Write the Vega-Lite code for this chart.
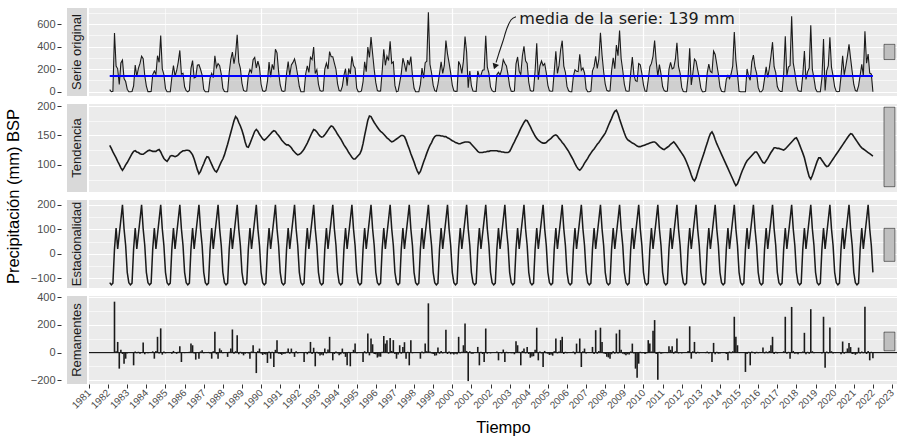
{
"$schema": "https://vega.github.io/schema/vega-lite/v6.json",
"padding": {"left": 4, "top": 8, "right": 0, "bottom": 0},
"background": "white",
"config": {"font": "Liberation Sans", "view": {"stroke": null}, "axis": {"labelFont": "Liberation Sans", "titleFont": "Liberation Sans", "gridColor": "#ffffff", "labelOverlap": false}},
"datasets": {
"ts": [
{"t":1982.083,"o":19,"tr":133,"s":-118,"r":4},
{"t":1982.167,"o":0,"tr":128,"s":-127,"r":-3},
{"t":1982.25,"o":4,"tr":122,"s":-120,"r":2},
{"t":1982.333,"o":520,"tr":117,"s":20,"r":368},
{"t":1982.417,"o":227,"tr":112,"s":105,"r":10},
{"t":1982.5,"o":203,"tr":106,"s":20,"r":77},
{"t":1982.583,"o":65,"tr":101,"s":80,"r":-116},
{"t":1982.667,"o":255,"tr":95,"s":140,"r":20},
{"t":1982.75,"o":280,"tr":91,"s":200,"r":-10},
{"t":1982.833,"o":117,"tr":95,"s":102,"r":-80},
{"t":1982.917,"o":90,"tr":100,"s":34,"r":-44},
{"t":1983.0,"o":22,"tr":104,"s":-76,"r":-6},
{"t":1983.083,"o":0,"tr":109,"s":-118,"r":5},
{"t":1983.167,"o":0,"tr":114,"s":-127,"r":-2},
{"t":1983.25,"o":2,"tr":119,"s":-120,"r":3},
{"t":1983.333,"o":52,"tr":123,"s":20,"r":-92},
{"t":1983.417,"o":237,"tr":124,"s":105,"r":8},
{"t":1983.5,"o":137,"tr":122,"s":20,"r":-5},
{"t":1983.583,"o":207,"tr":121,"s":80,"r":6},
{"t":1983.667,"o":251,"tr":119,"s":140,"r":-8},
{"t":1983.75,"o":315,"tr":118,"s":200,"r":-3},
{"t":1983.833,"o":293,"tr":118,"s":102,"r":73},
{"t":1983.917,"o":142,"tr":120,"s":34,"r":-12},
{"t":1984.0,"o":50,"tr":122,"s":-76,"r":4},
{"t":1984.083,"o":1,"tr":124,"s":-118,"r":-5},
{"t":1984.167,"o":1,"tr":125,"s":-127,"r":3},
{"t":1984.25,"o":2,"tr":124,"s":-120,"r":-2},
{"t":1984.333,"o":152,"tr":123,"s":20,"r":9},
{"t":1984.417,"o":184,"tr":123,"s":105,"r":-44},
{"t":1984.5,"o":154,"tr":123,"s":20,"r":12},
{"t":1984.583,"o":319,"tr":125,"s":80,"r":114},
{"t":1984.667,"o":261,"tr":126,"s":140,"r":-6},
{"t":1984.75,"o":497,"tr":122,"s":200,"r":175},
{"t":1984.833,"o":203,"tr":116,"s":102,"r":-15},
{"t":1984.917,"o":152,"tr":111,"s":34,"r":7},
{"t":1985.0,"o":27,"tr":108,"s":-76,"r":-5},
{"t":1985.083,"o":0,"tr":106,"s":-118,"r":3},
{"t":1985.167,"o":0,"tr":110,"s":-127,"r":-2},
{"t":1985.25,"o":0,"tr":115,"s":-120,"r":4},
{"t":1985.333,"o":128,"tr":116,"s":20,"r":-8},
{"t":1985.417,"o":232,"tr":115,"s":105,"r":12},
{"t":1985.5,"o":138,"tr":114,"s":20,"r":4},
{"t":1985.583,"o":186,"tr":115,"s":80,"r":-9},
{"t":1985.667,"o":263,"tr":117,"s":140,"r":6},
{"t":1985.75,"o":366,"tr":120,"s":200,"r":46},
{"t":1985.833,"o":156,"tr":122,"s":102,"r":-68},
{"t":1985.917,"o":163,"tr":124,"s":34,"r":5},
{"t":1986.0,"o":44,"tr":124,"s":-76,"r":-4},
{"t":1986.083,"o":9,"tr":125,"s":-118,"r":2},
{"t":1986.167,"o":0,"tr":125,"s":-127,"r":-3},
{"t":1986.25,"o":11,"tr":124,"s":-120,"r":6},
{"t":1986.333,"o":207,"tr":121,"s":20,"r":65},
{"t":1986.417,"o":276,"tr":117,"s":105,"r":53},
{"t":1986.5,"o":123,"tr":110,"s":20,"r":-7},
{"t":1986.583,"o":130,"tr":101,"s":80,"r":-51},
{"t":1986.667,"o":236,"tr":92,"s":140,"r":4},
{"t":1986.75,"o":239,"tr":85,"s":200,"r":-44},
{"t":1986.833,"o":199,"tr":89,"s":102,"r":8},
{"t":1986.917,"o":147,"tr":96,"s":34,"r":17},
{"t":1987.0,"o":21,"tr":102,"s":-76,"r":-5},
{"t":1987.083,"o":0,"tr":109,"s":-118,"r":3},
{"t":1987.167,"o":0,"tr":114,"s":-127,"r":-2},
{"t":1987.25,"o":0,"tr":113,"s":-120,"r":5},
{"t":1987.333,"o":121,"tr":107,"s":20,"r":-6},
{"t":1987.417,"o":162,"tr":101,"s":105,"r":-44},
{"t":1987.5,"o":125,"tr":95,"s":20,"r":10},
{"t":1987.583,"o":319,"tr":90,"s":80,"r":150},
{"t":1987.667,"o":215,"tr":88,"s":140,"r":-12},
{"t":1987.75,"o":249,"tr":93,"s":200,"r":-44},
{"t":1987.833,"o":231,"tr":99,"s":102,"r":30},
{"t":1987.917,"o":156,"tr":105,"s":34,"r":17},
{"t":1988.0,"o":30,"tr":110,"s":-76,"r":-4},
{"t":1988.083,"o":2,"tr":117,"s":-118,"r":3},
{"t":1988.167,"o":0,"tr":126,"s":-127,"r":-2},
{"t":1988.25,"o":0,"tr":135,"s":-120,"r":-31},
{"t":1988.333,"o":170,"tr":145,"s":20,"r":6},
{"t":1988.417,"o":288,"tr":155,"s":105,"r":29},
{"t":1988.5,"o":351,"tr":165,"s":20,"r":167},
{"t":1988.583,"o":248,"tr":175,"s":80,"r":-8},
{"t":1988.667,"o":334,"tr":182,"s":140,"r":10},
{"t":1988.75,"o":505,"tr":179,"s":200,"r":126},
{"t":1988.833,"o":262,"tr":172,"s":102,"r":-12},
{"t":1988.917,"o":206,"tr":166,"s":34,"r":6},
{"t":1989.0,"o":75,"tr":159,"s":-76,"r":-9},
{"t":1989.083,"o":12,"tr":150,"s":-118,"r":-20},
{"t":1989.167,"o":4,"tr":139,"s":-127,"r":-9},
{"t":1989.25,"o":6,"tr":131,"s":-120,"r":-3},
{"t":1989.333,"o":143,"tr":130,"s":20,"r":-6},
{"t":1989.417,"o":197,"tr":136,"s":105,"r":-44},
{"t":1989.5,"o":171,"tr":143,"s":20,"r":8},
{"t":1989.583,"o":283,"tr":150,"s":80,"r":53},
{"t":1989.667,"o":303,"tr":157,"s":140,"r":5},
{"t":1989.75,"o":212,"tr":160,"s":200,"r":-148},
{"t":1989.833,"o":270,"tr":157,"s":102,"r":12},
{"t":1989.917,"o":215,"tr":152,"s":34,"r":29},
{"t":1990.0,"o":66,"tr":148,"s":-76,"r":-6},
{"t":1990.083,"o":8,"tr":144,"s":-118,"r":-17},
{"t":1990.167,"o":3,"tr":142,"s":-127,"r":-11},
{"t":1990.25,"o":10,"tr":144,"s":-120,"r":-14},
{"t":1990.333,"o":92,"tr":147,"s":20,"r":-75},
{"t":1990.417,"o":263,"tr":150,"s":105,"r":8},
{"t":1990.5,"o":129,"tr":153,"s":20,"r":-44},
{"t":1990.583,"o":242,"tr":156,"s":80,"r":6},
{"t":1990.667,"o":195,"tr":158,"s":140,"r":-104},
{"t":1990.75,"o":377,"tr":157,"s":200,"r":20},
{"t":1990.833,"o":345,"tr":153,"s":102,"r":90},
{"t":1990.917,"o":176,"tr":150,"s":34,"r":-8},
{"t":1991.0,"o":60,"tr":146,"s":-76,"r":-10},
{"t":1991.083,"o":8,"tr":142,"s":-118,"r":-16},
{"t":1991.167,"o":3,"tr":139,"s":-127,"r":-9},
{"t":1991.25,"o":7,"tr":136,"s":-120,"r":-8},
{"t":1991.333,"o":160,"tr":134,"s":20,"r":6},
{"t":1991.417,"o":268,"tr":134,"s":105,"r":29},
{"t":1991.5,"o":144,"tr":132,"s":20,"r":-8},
{"t":1991.583,"o":238,"tr":129,"s":80,"r":29},
{"t":1991.667,"o":260,"tr":125,"s":140,"r":-5},
{"t":1991.75,"o":291,"tr":122,"s":200,"r":-31},
{"t":1991.833,"o":230,"tr":119,"s":102,"r":10},
{"t":1991.917,"o":144,"tr":117,"s":34,"r":-6},
{"t":1992.0,"o":46,"tr":118,"s":-76,"r":4},
{"t":1992.083,"o":0,"tr":120,"s":-118,"r":-2},
{"t":1992.167,"o":0,"tr":123,"s":-127,"r":3},
{"t":1992.25,"o":0,"tr":127,"s":-120,"r":-68},
{"t":1992.333,"o":157,"tr":132,"s":20,"r":5},
{"t":1992.417,"o":230,"tr":137,"s":105,"r":-12},
{"t":1992.5,"o":171,"tr":143,"s":20,"r":8},
{"t":1992.583,"o":306,"tr":149,"s":80,"r":77},
{"t":1992.667,"o":285,"tr":155,"s":140,"r":-10},
{"t":1992.75,"o":396,"tr":160,"s":200,"r":35},
{"t":1992.833,"o":162,"tr":159,"s":102,"r":-99},
{"t":1992.917,"o":196,"tr":156,"s":34,"r":6},
{"t":1993.0,"o":68,"tr":152,"s":-76,"r":-8},
{"t":1993.083,"o":10,"tr":149,"s":-118,"r":-21},
{"t":1993.167,"o":4,"tr":147,"s":-127,"r":-15},
{"t":1993.25,"o":8,"tr":148,"s":-120,"r":-20},
{"t":1993.333,"o":200,"tr":151,"s":20,"r":29},
{"t":1993.417,"o":254,"tr":155,"s":105,"r":-6},
{"t":1993.5,"o":201,"tr":159,"s":20,"r":22},
{"t":1993.583,"o":356,"tr":163,"s":80,"r":114},
{"t":1993.667,"o":310,"tr":166,"s":140,"r":4},
{"t":1993.75,"o":310,"tr":165,"s":200,"r":-56},
{"t":1993.833,"o":253,"tr":161,"s":102,"r":-10},
{"t":1993.917,"o":199,"tr":157,"s":34,"r":8},
{"t":1994.0,"o":70,"tr":152,"s":-76,"r":-6},
{"t":1994.083,"o":10,"tr":148,"s":-118,"r":-20},
{"t":1994.167,"o":5,"tr":144,"s":-127,"r":-12},
{"t":1994.25,"o":48,"tr":139,"s":-120,"r":29},
{"t":1994.333,"o":146,"tr":134,"s":20,"r":-8},
{"t":1994.417,"o":204,"tr":130,"s":105,"r":-31},
{"t":1994.5,"o":54,"tr":126,"s":20,"r":-92},
{"t":1994.583,"o":206,"tr":121,"s":80,"r":5},
{"t":1994.667,"o":158,"tr":117,"s":140,"r":-99},
{"t":1994.75,"o":313,"tr":113,"s":200,"r":0},
{"t":1994.833,"o":231,"tr":110,"s":102,"r":20},
{"t":1994.917,"o":209,"tr":110,"s":34,"r":65},
{"t":1995.0,"o":32,"tr":113,"s":-76,"r":-5},
{"t":1995.083,"o":1,"tr":116,"s":-118,"r":3},
{"t":1995.167,"o":0,"tr":119,"s":-127,"r":-2},
{"t":1995.25,"o":7,"tr":125,"s":-120,"r":4},
{"t":1995.333,"o":88,"tr":136,"s":20,"r":-68},
{"t":1995.417,"o":265,"tr":150,"s":105,"r":10},
{"t":1995.5,"o":177,"tr":163,"s":20,"r":-6},
{"t":1995.583,"o":396,"tr":176,"s":80,"r":138},
{"t":1995.667,"o":304,"tr":183,"s":140,"r":-20},
{"t":1995.75,"o":484,"tr":182,"s":200,"r":102},
{"t":1995.833,"o":339,"tr":177,"s":102,"r":60},
{"t":1995.917,"o":196,"tr":172,"s":34,"r":-10},
{"t":1996.0,"o":80,"tr":168,"s":-76,"r":-12},
{"t":1996.083,"o":10,"tr":164,"s":-118,"r":-36},
{"t":1996.167,"o":5,"tr":160,"s":-127,"r":-28},
{"t":1996.25,"o":7,"tr":157,"s":-120,"r":-30},
{"t":1996.333,"o":181,"tr":155,"s":20,"r":6},
{"t":1996.417,"o":377,"tr":152,"s":105,"r":120},
{"t":1996.5,"o":234,"tr":149,"s":20,"r":65},
{"t":1996.583,"o":316,"tr":146,"s":80,"r":90},
{"t":1996.667,"o":276,"tr":144,"s":140,"r":-8},
{"t":1996.75,"o":447,"tr":141,"s":200,"r":106},
{"t":1996.833,"o":252,"tr":139,"s":102,"r":12},
{"t":1996.917,"o":264,"tr":140,"s":34,"r":90},
{"t":1997.0,"o":56,"tr":142,"s":-76,"r":-10},
{"t":1997.083,"o":0,"tr":144,"s":-118,"r":-44},
{"t":1997.167,"o":5,"tr":146,"s":-127,"r":-14},
{"t":1997.25,"o":81,"tr":148,"s":-120,"r":53},
{"t":1997.333,"o":162,"tr":150,"s":20,"r":-8},
{"t":1997.417,"o":297,"tr":150,"s":105,"r":41},
{"t":1997.5,"o":244,"tr":148,"s":20,"r":75},
{"t":1997.583,"o":178,"tr":142,"s":80,"r":-44},
{"t":1997.667,"o":280,"tr":134,"s":140,"r":6},
{"t":1997.75,"o":235,"tr":127,"s":200,"r":-92},
{"t":1997.833,"o":311,"tr":119,"s":102,"r":90},
{"t":1997.917,"o":141,"tr":112,"s":34,"r":-5},
{"t":1998.0,"o":33,"tr":105,"s":-76,"r":4},
{"t":1998.083,"o":0,"tr":97,"s":-118,"r":3},
{"t":1998.167,"o":0,"tr":90,"s":-127,"r":-2},
{"t":1998.25,"o":0,"tr":85,"s":-120,"r":5},
{"t":1998.333,"o":65,"tr":89,"s":20,"r":-44},
{"t":1998.417,"o":210,"tr":97,"s":105,"r":8},
{"t":1998.5,"o":119,"tr":105,"s":20,"r":-6},
{"t":1998.583,"o":257,"tr":112,"s":80,"r":65},
{"t":1998.667,"o":270,"tr":120,"s":140,"r":10},
{"t":1998.75,"o":705,"tr":127,"s":200,"r":356},
{"t":1998.833,"o":243,"tr":133,"s":102,"r":8},
{"t":1998.917,"o":166,"tr":138,"s":34,"r":-6},
{"t":1999.0,"o":58,"tr":144,"s":-76,"r":-10},
{"t":1999.083,"o":9,"tr":148,"s":-118,"r":-22},
{"t":1999.167,"o":3,"tr":150,"s":-127,"r":-20},
{"t":1999.25,"o":66,"tr":150,"s":-120,"r":36},
{"t":1999.333,"o":162,"tr":150,"s":20,"r":-8},
{"t":1999.417,"o":266,"tr":149,"s":105,"r":12},
{"t":1999.5,"o":163,"tr":149,"s":20,"r":-6},
{"t":1999.583,"o":233,"tr":148,"s":80,"r":5},
{"t":1999.667,"o":453,"tr":148,"s":140,"r":165},
{"t":1999.75,"o":336,"tr":146,"s":200,"r":-10},
{"t":1999.833,"o":255,"tr":145,"s":102,"r":8},
{"t":1999.917,"o":165,"tr":143,"s":34,"r":-12},
{"t":2000.0,"o":59,"tr":141,"s":-76,"r":-6},
{"t":2000.083,"o":8,"tr":140,"s":-118,"r":-14},
{"t":2000.167,"o":3,"tr":138,"s":-127,"r":-8},
{"t":2000.25,"o":5,"tr":137,"s":-120,"r":-12},
{"t":2000.333,"o":269,"tr":136,"s":20,"r":114},
{"t":2000.417,"o":236,"tr":136,"s":105,"r":-5},
{"t":2000.5,"o":163,"tr":137,"s":20,"r":6},
{"t":2000.583,"o":271,"tr":138,"s":80,"r":53},
{"t":2000.667,"o":489,"tr":139,"s":140,"r":210},
{"t":2000.75,"o":351,"tr":139,"s":200,"r":12},
{"t":2000.833,"o":36,"tr":139,"s":102,"r":-206},
{"t":2000.917,"o":183,"tr":138,"s":34,"r":10},
{"t":2001.0,"o":51,"tr":135,"s":-76,"r":-8},
{"t":2001.083,"o":6,"tr":132,"s":-118,"r":-8},
{"t":2001.167,"o":4,"tr":129,"s":-127,"r":2},
{"t":2001.25,"o":3,"tr":126,"s":-120,"r":-3},
{"t":2001.333,"o":184,"tr":123,"s":20,"r":41},
{"t":2001.417,"o":133,"tr":121,"s":105,"r":-92},
{"t":2001.5,"o":147,"tr":121,"s":20,"r":6},
{"t":2001.583,"o":191,"tr":121,"s":80,"r":-10},
{"t":2001.667,"o":194,"tr":122,"s":140,"r":-68},
{"t":2001.75,"o":496,"tr":122,"s":200,"r":174},
{"t":2001.833,"o":217,"tr":123,"s":102,"r":-8},
{"t":2001.917,"o":162,"tr":123,"s":34,"r":5},
{"t":2002.0,"o":42,"tr":124,"s":-76,"r":-6},
{"t":2002.083,"o":9,"tr":124,"s":-118,"r":3},
{"t":2002.167,"o":0,"tr":124,"s":-127,"r":2},
{"t":2002.25,"o":2,"tr":124,"s":-120,"r":-2},
{"t":2002.333,"o":152,"tr":124,"s":20,"r":8},
{"t":2002.417,"o":172,"tr":123,"s":105,"r":-56},
{"t":2002.5,"o":148,"tr":123,"s":20,"r":5},
{"t":2002.583,"o":196,"tr":122,"s":80,"r":-6},
{"t":2002.667,"o":284,"tr":122,"s":140,"r":22},
{"t":2002.75,"o":253,"tr":121,"s":200,"r":-68},
{"t":2002.833,"o":229,"tr":121,"s":102,"r":6},
{"t":2002.917,"o":150,"tr":121,"s":34,"r":-4},
{"t":2003.0,"o":50,"tr":123,"s":-76,"r":4},
{"t":2003.083,"o":5,"tr":128,"s":-118,"r":-5},
{"t":2003.167,"o":3,"tr":134,"s":-127,"r":-4},
{"t":2003.25,"o":7,"tr":139,"s":-120,"r":-12},
{"t":2003.333,"o":247,"tr":145,"s":20,"r":82},
{"t":2003.417,"o":308,"tr":150,"s":105,"r":53},
{"t":2003.5,"o":182,"tr":156,"s":20,"r":6},
{"t":2003.583,"o":150,"tr":162,"s":80,"r":-92},
{"t":2003.667,"o":319,"tr":167,"s":140,"r":12},
{"t":2003.75,"o":402,"tr":172,"s":200,"r":29},
{"t":2003.833,"o":274,"tr":176,"s":102,"r":-6},
{"t":2003.917,"o":251,"tr":175,"s":34,"r":41},
{"t":2004.0,"o":84,"tr":170,"s":-76,"r":-10},
{"t":2004.083,"o":10,"tr":165,"s":-118,"r":-37},
{"t":2004.167,"o":4,"tr":159,"s":-127,"r":-28},
{"t":2004.25,"o":8,"tr":154,"s":-120,"r":-26},
{"t":2004.333,"o":188,"tr":149,"s":20,"r":20},
{"t":2004.417,"o":429,"tr":145,"s":105,"r":180},
{"t":2004.5,"o":106,"tr":142,"s":20,"r":-56},
{"t":2004.583,"o":228,"tr":140,"s":80,"r":8},
{"t":2004.667,"o":272,"tr":138,"s":140,"r":-6},
{"t":2004.75,"o":232,"tr":137,"s":200,"r":-104},
{"t":2004.833,"o":250,"tr":137,"s":102,"r":12},
{"t":2004.917,"o":167,"tr":138,"s":34,"r":-5},
{"t":2005.0,"o":57,"tr":141,"s":-76,"r":-8},
{"t":2005.083,"o":8,"tr":143,"s":-118,"r":-17},
{"t":2005.167,"o":4,"tr":145,"s":-127,"r":-14},
{"t":2005.25,"o":6,"tr":148,"s":-120,"r":-22},
{"t":2005.333,"o":180,"tr":150,"s":20,"r":10},
{"t":2005.417,"o":359,"tr":151,"s":105,"r":102},
{"t":2005.5,"o":163,"tr":149,"s":20,"r":-6},
{"t":2005.583,"o":233,"tr":145,"s":80,"r":8},
{"t":2005.667,"o":372,"tr":142,"s":140,"r":90},
{"t":2005.75,"o":452,"tr":138,"s":200,"r":114},
{"t":2005.833,"o":227,"tr":135,"s":102,"r":-10},
{"t":2005.917,"o":171,"tr":131,"s":34,"r":6},
{"t":2006.0,"o":47,"tr":127,"s":-76,"r":-5},
{"t":2006.083,"o":8,"tr":123,"s":-118,"r":3},
{"t":2006.167,"o":0,"tr":118,"s":-127,"r":4},
{"t":2006.25,"o":0,"tr":113,"s":-120,"r":-3},
{"t":2006.333,"o":136,"tr":108,"s":20,"r":8},
{"t":2006.417,"o":195,"tr":102,"s":105,"r":-12},
{"t":2006.5,"o":182,"tr":97,"s":20,"r":65},
{"t":2006.583,"o":178,"tr":93,"s":80,"r":6},
{"t":2006.667,"o":332,"tr":91,"s":140,"r":102},
{"t":2006.75,"o":190,"tr":94,"s":200,"r":-104},
{"t":2006.833,"o":210,"tr":98,"s":102,"r":10},
{"t":2006.917,"o":166,"tr":103,"s":34,"r":29},
{"t":2007.0,"o":25,"tr":107,"s":-76,"r":-6},
{"t":2007.083,"o":0,"tr":111,"s":-118,"r":4},
{"t":2007.167,"o":0,"tr":116,"s":-127,"r":-2},
{"t":2007.25,"o":5,"tr":120,"s":-120,"r":5},
{"t":2007.333,"o":185,"tr":124,"s":20,"r":41},
{"t":2007.417,"o":222,"tr":127,"s":105,"r":-10},
{"t":2007.5,"o":313,"tr":131,"s":20,"r":162},
{"t":2007.583,"o":207,"tr":135,"s":80,"r":-8},
{"t":2007.667,"o":290,"tr":138,"s":140,"r":12},
{"t":2007.75,"o":522,"tr":142,"s":200,"r":180},
{"t":2007.833,"o":325,"tr":146,"s":102,"r":77},
{"t":2007.917,"o":177,"tr":150,"s":34,"r":-6},
{"t":2008.0,"o":68,"tr":154,"s":-76,"r":-10},
{"t":2008.083,"o":12,"tr":160,"s":-118,"r":-30},
{"t":2008.167,"o":5,"tr":167,"s":-127,"r":-35},
{"t":2008.25,"o":8,"tr":173,"s":-120,"r":-45},
{"t":2008.333,"o":187,"tr":179,"s":20,"r":-12},
{"t":2008.417,"o":301,"tr":186,"s":105,"r":10},
{"t":2008.5,"o":204,"tr":191,"s":20,"r":-8},
{"t":2008.583,"o":413,"tr":193,"s":80,"r":138},
{"t":2008.667,"o":320,"tr":187,"s":140,"r":-6},
{"t":2008.75,"o":543,"tr":178,"s":200,"r":165},
{"t":2008.833,"o":292,"tr":170,"s":102,"r":20},
{"t":2008.917,"o":188,"tr":162,"s":34,"r":-8},
{"t":2009.0,"o":66,"tr":154,"s":-76,"r":-12},
{"t":2009.083,"o":8,"tr":147,"s":-118,"r":-20},
{"t":2009.167,"o":4,"tr":143,"s":-127,"r":-12},
{"t":2009.25,"o":7,"tr":141,"s":-120,"r":-14},
{"t":2009.333,"o":167,"tr":139,"s":20,"r":8},
{"t":2009.417,"o":307,"tr":137,"s":105,"r":65},
{"t":2009.5,"o":150,"tr":136,"s":20,"r":-6},
{"t":2009.583,"o":98,"tr":134,"s":80,"r":-116},
{"t":2009.667,"o":91,"tr":132,"s":140,"r":-181},
{"t":2009.75,"o":250,"tr":131,"s":200,"r":-80},
{"t":2009.833,"o":239,"tr":131,"s":102,"r":6},
{"t":2009.917,"o":161,"tr":132,"s":34,"r":-5},
{"t":2010.0,"o":61,"tr":133,"s":-76,"r":4},
{"t":2010.083,"o":6,"tr":134,"s":-118,"r":-10},
{"t":2010.167,"o":3,"tr":135,"s":-127,"r":-5},
{"t":2010.25,"o":106,"tr":136,"s":-120,"r":90},
{"t":2010.333,"o":222,"tr":137,"s":20,"r":65},
{"t":2010.417,"o":251,"tr":138,"s":105,"r":8},
{"t":2010.5,"o":316,"tr":139,"s":20,"r":157},
{"t":2010.583,"o":454,"tr":139,"s":80,"r":235},
{"t":2010.667,"o":267,"tr":137,"s":140,"r":-10},
{"t":2010.75,"o":138,"tr":134,"s":200,"r":-196},
{"t":2010.833,"o":240,"tr":131,"s":102,"r":6},
{"t":2010.917,"o":156,"tr":129,"s":34,"r":-8},
{"t":2011.0,"o":46,"tr":127,"s":-76,"r":-5},
{"t":2011.083,"o":10,"tr":126,"s":-118,"r":3},
{"t":2011.167,"o":3,"tr":128,"s":-127,"r":2},
{"t":2011.25,"o":6,"tr":130,"s":-120,"r":-4},
{"t":2011.333,"o":198,"tr":132,"s":20,"r":46},
{"t":2011.417,"o":260,"tr":135,"s":105,"r":20},
{"t":2011.5,"o":203,"tr":137,"s":20,"r":46},
{"t":2011.583,"o":212,"tr":139,"s":80,"r":-8},
{"t":2011.667,"o":286,"tr":136,"s":140,"r":10},
{"t":2011.75,"o":434,"tr":132,"s":200,"r":102},
{"t":2011.833,"o":224,"tr":128,"s":102,"r":-6},
{"t":2011.917,"o":163,"tr":124,"s":34,"r":5},
{"t":2012.0,"o":38,"tr":120,"s":-76,"r":-6},
{"t":2012.083,"o":2,"tr":116,"s":-118,"r":4},
{"t":2012.167,"o":0,"tr":111,"s":-127,"r":3},
{"t":2012.25,"o":0,"tr":105,"s":-120,"r":-2},
{"t":2012.333,"o":130,"tr":98,"s":20,"r":12},
{"t":2012.417,"o":386,"tr":91,"s":105,"r":190},
{"t":2012.5,"o":60,"tr":83,"s":20,"r":-44},
{"t":2012.583,"o":164,"tr":76,"s":80,"r":10},
{"t":2012.667,"o":289,"tr":73,"s":140,"r":77},
{"t":2012.75,"o":271,"tr":78,"s":200,"r":-8},
{"t":2012.833,"o":196,"tr":87,"s":102,"r":6},
{"t":2012.917,"o":125,"tr":96,"s":34,"r":-5},
{"t":2013.0,"o":32,"tr":104,"s":-76,"r":4},
{"t":2013.083,"o":0,"tr":112,"s":-118,"r":3},
{"t":2013.167,"o":0,"tr":120,"s":-127,"r":-2},
{"t":2013.25,"o":5,"tr":129,"s":-120,"r":-4},
{"t":2013.333,"o":165,"tr":137,"s":20,"r":8},
{"t":2013.417,"o":245,"tr":146,"s":105,"r":-6},
{"t":2013.5,"o":179,"tr":153,"s":20,"r":5},
{"t":2013.583,"o":168,"tr":156,"s":80,"r":-68},
{"t":2013.667,"o":360,"tr":151,"s":140,"r":70},
{"t":2013.75,"o":330,"tr":143,"s":200,"r":-12},
{"t":2013.833,"o":244,"tr":136,"s":102,"r":6},
{"t":2013.917,"o":156,"tr":130,"s":34,"r":-8},
{"t":2014.0,"o":42,"tr":124,"s":-76,"r":-6},
{"t":2014.083,"o":4,"tr":118,"s":-118,"r":4},
{"t":2014.167,"o":0,"tr":112,"s":-127,"r":3},
{"t":2014.25,"o":0,"tr":106,"s":-120,"r":2},
{"t":2014.333,"o":110,"tr":100,"s":20,"r":-10},
{"t":2014.417,"o":143,"tr":94,"s":105,"r":-56},
{"t":2014.5,"o":116,"tr":88,"s":20,"r":8},
{"t":2014.583,"o":157,"tr":82,"s":80,"r":-5},
{"t":2014.667,"o":226,"tr":76,"s":140,"r":10},
{"t":2014.75,"o":529,"tr":70,"s":200,"r":259},
{"t":2014.833,"o":280,"tr":65,"s":102,"r":114},
{"t":2014.917,"o":156,"tr":68,"s":34,"r":53},
{"t":2015.0,"o":4,"tr":75,"s":-76,"r":4},
{"t":2015.083,"o":0,"tr":83,"s":-118,"r":3},
{"t":2015.167,"o":0,"tr":90,"s":-127,"r":-2},
{"t":2015.25,"o":0,"tr":96,"s":-120,"r":5},
{"t":2015.333,"o":0,"tr":102,"s":20,"r":-140},
{"t":2015.417,"o":202,"tr":107,"s":105,"r":-10},
{"t":2015.5,"o":136,"tr":110,"s":20,"r":6},
{"t":2015.583,"o":101,"tr":113,"s":80,"r":-92},
{"t":2015.667,"o":264,"tr":116,"s":140,"r":8},
{"t":2015.75,"o":324,"tr":119,"s":200,"r":5},
{"t":2015.833,"o":217,"tr":122,"s":102,"r":-8},
{"t":2015.917,"o":163,"tr":122,"s":34,"r":6},
{"t":2016.0,"o":38,"tr":118,"s":-76,"r":-4},
{"t":2016.083,"o":0,"tr":113,"s":-118,"r":5},
{"t":2016.167,"o":0,"tr":108,"s":-127,"r":2},
{"t":2016.25,"o":19,"tr":104,"s":-120,"r":36},
{"t":2016.333,"o":116,"tr":103,"s":20,"r":-6},
{"t":2016.417,"o":220,"tr":107,"s":105,"r":8},
{"t":2016.5,"o":126,"tr":111,"s":20,"r":-5},
{"t":2016.583,"o":208,"tr":116,"s":80,"r":12},
{"t":2016.667,"o":314,"tr":121,"s":140,"r":53},
{"t":2016.75,"o":439,"tr":125,"s":200,"r":114},
{"t":2016.833,"o":222,"tr":129,"s":102,"r":-10},
{"t":2016.917,"o":169,"tr":129,"s":34,"r":6},
{"t":2017.0,"o":46,"tr":128,"s":-76,"r":-6},
{"t":2017.083,"o":13,"tr":128,"s":-118,"r":3},
{"t":2017.167,"o":2,"tr":127,"s":-127,"r":2},
{"t":2017.25,"o":3,"tr":126,"s":-120,"r":-3},
{"t":2017.333,"o":155,"tr":125,"s":20,"r":10},
{"t":2017.417,"o":491,"tr":127,"s":105,"r":259},
{"t":2017.5,"o":142,"tr":130,"s":20,"r":-8},
{"t":2017.583,"o":219,"tr":133,"s":80,"r":6},
{"t":2017.667,"o":232,"tr":136,"s":140,"r":-44},
{"t":2017.75,"o":669,"tr":139,"s":200,"r":330},
{"t":2017.833,"o":256,"tr":142,"s":102,"r":12},
{"t":2017.917,"o":171,"tr":145,"s":34,"r":-8},
{"t":2018.0,"o":65,"tr":146,"s":-76,"r":-6},
{"t":2018.083,"o":10,"tr":141,"s":-118,"r":-12},
{"t":2018.167,"o":4,"tr":134,"s":-127,"r":-3},
{"t":2018.25,"o":3,"tr":127,"s":-120,"r":-4},
{"t":2018.333,"o":148,"tr":120,"s":20,"r":8},
{"t":2018.417,"o":361,"tr":112,"s":105,"r":143},
{"t":2018.5,"o":109,"tr":101,"s":20,"r":-12},
{"t":2018.583,"o":176,"tr":90,"s":80,"r":6},
{"t":2018.667,"o":210,"tr":80,"s":140,"r":-8},
{"t":2018.75,"o":590,"tr":76,"s":200,"r":314},
{"t":2018.833,"o":195,"tr":82,"s":102,"r":10},
{"t":2018.917,"o":120,"tr":90,"s":34,"r":-5},
{"t":2019.0,"o":26,"tr":98,"s":-76,"r":4},
{"t":2019.083,"o":0,"tr":106,"s":-118,"r":3},
{"t":2019.167,"o":0,"tr":112,"s":-127,"r":-2},
{"t":2019.25,"o":0,"tr":112,"s":-120,"r":4},
{"t":2019.333,"o":122,"tr":108,"s":20,"r":-6},
{"t":2019.417,"o":468,"tr":104,"s":105,"r":259},
{"t":2019.5,"o":11,"tr":100,"s":20,"r":-109},
{"t":2019.583,"o":184,"tr":97,"s":80,"r":8},
{"t":2019.667,"o":232,"tr":98,"s":140,"r":-6},
{"t":2019.75,"o":483,"tr":102,"s":200,"r":181},
{"t":2019.833,"o":218,"tr":106,"s":102,"r":10},
{"t":2019.917,"o":138,"tr":110,"s":34,"r":-6},
{"t":2020.0,"o":42,"tr":114,"s":-76,"r":4},
{"t":2020.083,"o":3,"tr":118,"s":-118,"r":3},
{"t":2020.167,"o":0,"tr":122,"s":-127,"r":5},
{"t":2020.25,"o":3,"tr":126,"s":-120,"r":-3},
{"t":2020.333,"o":138,"tr":130,"s":20,"r":-12},
{"t":2020.417,"o":319,"tr":134,"s":105,"r":80},
{"t":2020.5,"o":150,"tr":138,"s":20,"r":-8},
{"t":2020.583,"o":228,"tr":142,"s":80,"r":6},
{"t":2020.667,"o":316,"tr":146,"s":140,"r":30},
{"t":2020.75,"o":420,"tr":150,"s":200,"r":70},
{"t":2020.833,"o":296,"tr":153,"s":102,"r":40},
{"t":2020.917,"o":176,"tr":152,"s":34,"r":-10},
{"t":2021.0,"o":64,"tr":148,"s":-76,"r":-8},
{"t":2021.083,"o":10,"tr":144,"s":-118,"r":-16},
{"t":2021.167,"o":4,"tr":140,"s":-127,"r":-9},
{"t":2021.25,"o":52,"tr":136,"s":-120,"r":36},
{"t":2021.333,"o":146,"tr":132,"s":20,"r":-6},
{"t":2021.417,"o":242,"tr":129,"s":105,"r":8},
{"t":2021.5,"o":142,"tr":127,"s":20,"r":-5},
{"t":2021.583,"o":536,"tr":125,"s":80,"r":331},
{"t":2021.667,"o":253,"tr":123,"s":140,"r":-10},
{"t":2021.75,"o":333,"tr":121,"s":200,"r":12},
{"t":2021.833,"o":165,"tr":119,"s":102,"r":-56},
{"t":2021.917,"o":157,"tr":117,"s":34,"r":6},
{"t":2022.0,"o":0,"tr":115,"s":-76,"r":-40}
]
},
"spacing": 8,
"bounds": "flush",
"vconcat": [
{"width": 830, "height": 88, "view": {"fill": "#ebebeb", "stroke": null},
 "resolve": {"axis": {"x": "independent", "y": "independent"}},
 "layer": [
  {"data": {"name": "ts"}, "mark": {"type": "area", "color": "#bdbdbd", "opacity": 0.6},
   "encoding": {
    "x": {"field": "t", "type": "quantitative", "scale": {"domain": [1979.849, 2023.26], "nice": false, "zero": false}, "axis": {"orient": "bottom", "values": [1990, 2000, 2010, 2020], "labels": false, "ticks": false, "domain": false, "title": null, "grid": true, "gridWidth": 1.2}},
    "y": {"field": "o", "type": "quantitative", "scale": {"domain": [-38, 742], "nice": false, "zero": false}, "axis": {"orient": "left", "values": [0, 200, 400, 600], "labelOverlap": false, "offset": 6, "tickSize": 4, "tickColor": "#333333", "labelColor": "#4d4d4d", "labelFontSize": 11, "labelPadding": 2, "domain": false, "title": null, "grid": false}},
    "y2": {"datum": 0}}},
  {"data": {"name": "ts"}, "mark": {"type": "line", "color": "#1a1a1a", "strokeWidth": 1.1},
   "encoding": {
    "x": {"field": "t", "type": "quantitative", "axis": {"orient": "bottom", "values": [1985, 1995, 2005, 2015], "labels": false, "ticks": false, "domain": false, "title": null, "grid": true, "gridWidth": 0.6}},
    "y": {"field": "o", "type": "quantitative", "axis": {"orient": "left", "values": [0, 200, 400, 600], "labels": false, "ticks": false, "domain": false, "title": null, "grid": true, "gridWidth": 1.2}}}},
  {"data": {"values": [{"a": 1982.083, "b": 2022.0, "m": 139}]}, "mark": {"type": "rule", "color": "#0000ff", "strokeWidth": 2},
   "encoding": {"x": {"field": "a", "type": "quantitative", "axis": null}, "x2": {"field": "b"}, "y": {"field": "m", "type": "quantitative", "axis": null}}},
  {"data": {"values": [{"a": 2022.58, "b": 2023.15, "lo": 285, "hi": 420}]}, "mark": {"type": "rect", "fill": "#bfbfbf", "stroke": "#000000", "strokeWidth": 0.5},
   "encoding": {"x": {"field": "a", "type": "quantitative", "axis": null}, "x2": {"field": "b"}, "y": {"field": "lo", "type": "quantitative", "axis": null}, "y2": {"field": "hi"}}},
  {"data": {"values": [{"a": 1979.849, "b": 1980.895, "lo": -38, "hi": 742}]}, "mark": {"type": "rect", "fill": "#d9d9d9"},
   "encoding": {"x": {"field": "a", "type": "quantitative", "axis": null}, "x2": {"field": "b"}, "y": {"field": "lo", "type": "quantitative", "axis": {"orient": "left", "values": [100, 300, 500, 700], "labels": false, "ticks": false, "domain": false, "title": null, "grid": true, "gridWidth": 0.6}}, "y2": {"field": "hi"}}},
  {"data": {"values": [{"a": 1980.895, "b": 1981, "lo": -38, "hi": 742}]}, "mark": {"type": "rect", "fill": "#ffffff"},
   "encoding": {"x": {"field": "a", "type": "quantitative", "axis": null}, "x2": {"field": "b"}, "y": {"field": "lo", "type": "quantitative", "axis": null}, "y2": {"field": "hi"}}},
  {"data": {"values": [{"a": 1980.372, "m": 352, "lab": "Serie original"}]}, "mark": {"type": "text", "angle": 270, "fontSize": 13, "color": "#1a1a1a", "align": "center", "baseline": "middle"},
   "encoding": {"x": {"field": "a", "type": "quantitative", "axis": null}, "y": {"field": "m", "type": "quantitative", "axis": null}, "text": {"field": "lab"}}},
  {"data": {"values": [{"t": 2002.29, "v": 259}, {"t": 2002.41, "v": 325}, {"t": 2002.64, "v": 443}, {"t": 2002.86, "v": 562}, {"t": 2003.07, "v": 636}, {"t": 2003.33, "v": 665}]},
   "mark": {"type": "line", "color": "#1a1a1a", "strokeWidth": 1.1, "interpolate": "monotone"},
   "encoding": {"x": {"field": "t", "type": "quantitative", "axis": null}, "y": {"field": "v", "type": "quantitative", "axis": null}}},
  {"data": {"values": [{"t": 2002.23, "v": 223}]},
   "mark": {"type": "point", "shape": "triangle-down", "filled": true, "color": "#1a1a1a", "size": 45, "angle": 19, "opacity": 1},
   "encoding": {"x": {"field": "t", "type": "quantitative", "axis": null}, "y": {"field": "v", "type": "quantitative", "axis": null}}},
  {"data": {"values": [{"t": 2003.505, "v": 600, "lab": "media de la serie: 139 mm"}]},
   "mark": {"type": "text", "font": "DejaVu Sans", "fontSize": 16, "align": "left", "baseline": "alphabetic", "color": "#1a1a1a"},
   "encoding": {"x": {"field": "t", "type": "quantitative", "axis": null}, "y": {"field": "v", "type": "quantitative", "axis": null}, "text": {"field": "lab"}}}
 ]},
{"width": 830, "height": 88, "view": {"fill": "#ebebeb", "stroke": null},
 "resolve": {"axis": {"x": "independent", "y": "independent"}},
 "layer": [
  {"data": {"name": "ts"}, "mark": {"type": "line", "color": "#1a1a1a", "strokeWidth": 1.6},
   "encoding": {
    "x": {"field": "t", "type": "quantitative", "scale": {"domain": [1979.849, 2023.26], "nice": false, "zero": false}, "axis": {"orient": "bottom", "values": [1990, 2000, 2010, 2020], "labels": false, "ticks": false, "domain": false, "title": null, "grid": true, "gridWidth": 1.2}},
    "y": {"field": "tr", "type": "quantitative", "scale": {"domain": [54, 203.4], "nice": false, "zero": false}, "axis": {"orient": "left", "values": [100, 150, 200], "labelOverlap": false, "offset": 6, "tickSize": 4, "tickColor": "#333333", "labelColor": "#4d4d4d", "labelFontSize": 11, "labelPadding": 2, "domain": false, "grid": false, "title": "Precipitación (mm) BSP", "titleFontSize": 16.5, "titleFontWeight": "normal", "titleColor": "#000000", "titleAngle": 270, "titleAlign": "center", "titleBaseline": "middle", "titleX": -48, "titleY": 92}}}},
  {"data": {"values": [{"a": 2022.58, "b": 2023.15, "lo": 63, "hi": 198}]}, "mark": {"type": "rect", "fill": "#bfbfbf", "stroke": "#000000", "strokeWidth": 0.5},
   "encoding": {
    "x": {"field": "a", "type": "quantitative", "axis": {"orient": "bottom", "values": [1985, 1995, 2005, 2015], "labels": false, "ticks": false, "domain": false, "title": null, "grid": true, "gridWidth": 0.6}},
    "x2": {"field": "b"},
    "y": {"field": "lo", "type": "quantitative", "axis": {"orient": "left", "values": [100, 150, 200], "labels": false, "ticks": false, "domain": false, "title": null, "grid": true, "gridWidth": 1.2}},
    "y2": {"field": "hi"}}},
  {"data": {"values": [{"a": 1979.849, "b": 1980.895, "lo": 54, "hi": 203.4}]}, "mark": {"type": "rect", "fill": "#d9d9d9"},
   "encoding": {"x": {"field": "a", "type": "quantitative", "axis": null}, "x2": {"field": "b"}, "y": {"field": "lo", "type": "quantitative", "axis": {"orient": "left", "values": [75, 125, 175], "labels": false, "ticks": false, "domain": false, "title": null, "grid": true, "gridWidth": 0.6}}, "y2": {"field": "hi"}}},
  {"data": {"values": [{"a": 1980.895, "b": 1981, "lo": 54, "hi": 203.4}]}, "mark": {"type": "rect", "fill": "#ffffff"},
   "encoding": {"x": {"field": "a", "type": "quantitative", "axis": null}, "x2": {"field": "b"}, "y": {"field": "lo", "type": "quantitative", "axis": null}, "y2": {"field": "hi"}}},
  {"data": {"values": [{"a": 1980.372, "m": 128.7, "lab": "Tendencia"}]}, "mark": {"type": "text", "angle": 270, "fontSize": 13, "color": "#1a1a1a", "align": "center", "baseline": "middle"},
   "encoding": {"x": {"field": "a", "type": "quantitative", "axis": null}, "y": {"field": "m", "type": "quantitative", "axis": null}, "text": {"field": "lab"}}}
 ]},
{"width": 830, "height": 88, "view": {"fill": "#ebebeb", "stroke": null},
 "resolve": {"axis": {"x": "independent", "y": "independent"}},
 "layer": [
  {"data": {"name": "ts"}, "mark": {"type": "line", "color": "#1a1a1a", "strokeWidth": 1.5},
   "encoding": {
    "x": {"field": "t", "type": "quantitative", "scale": {"domain": [1979.849, 2023.26], "nice": false, "zero": false}, "axis": {"orient": "bottom", "values": [1990, 2000, 2010, 2020], "labels": false, "ticks": false, "domain": false, "title": null, "grid": true, "gridWidth": 1.2}},
    "y": {"field": "s", "type": "quantitative", "scale": {"domain": [-140, 220], "nice": false, "zero": false}, "axis": {"orient": "left", "values": [-100, 0, 100, 200], "labelOverlap": false, "offset": 6, "tickSize": 4, "tickColor": "#333333", "labelColor": "#4d4d4d", "labelFontSize": 11, "labelPadding": 2, "domain": false, "title": null, "grid": false}}}},
  {"data": {"values": [{"a": 2022.58, "b": 2023.15, "lo": -31, "hi": 104}]}, "mark": {"type": "rect", "fill": "#bfbfbf", "stroke": "#000000", "strokeWidth": 0.5},
   "encoding": {
    "x": {"field": "a", "type": "quantitative", "axis": {"orient": "bottom", "values": [1985, 1995, 2005, 2015], "labels": false, "ticks": false, "domain": false, "title": null, "grid": true, "gridWidth": 0.6}},
    "x2": {"field": "b"},
    "y": {"field": "lo", "type": "quantitative", "axis": {"orient": "left", "values": [-100, 0, 100, 200], "labels": false, "ticks": false, "domain": false, "title": null, "grid": true, "gridWidth": 1.2}},
    "y2": {"field": "hi"}}},
  {"data": {"values": [{"a": 1979.849, "b": 1980.895, "lo": -140, "hi": 220}]}, "mark": {"type": "rect", "fill": "#d9d9d9"},
   "encoding": {"x": {"field": "a", "type": "quantitative", "axis": null}, "x2": {"field": "b"}, "y": {"field": "lo", "type": "quantitative", "axis": {"orient": "left", "values": [-50, 50, 150], "labels": false, "ticks": false, "domain": false, "title": null, "grid": true, "gridWidth": 0.6}}, "y2": {"field": "hi"}}},
  {"data": {"values": [{"a": 1980.895, "b": 1981, "lo": -140, "hi": 220}]}, "mark": {"type": "rect", "fill": "#ffffff"},
   "encoding": {"x": {"field": "a", "type": "quantitative", "axis": null}, "x2": {"field": "b"}, "y": {"field": "lo", "type": "quantitative", "axis": null}, "y2": {"field": "hi"}}},
  {"data": {"values": [{"a": 1980.372, "m": 40, "lab": "Estacionalidad"}]}, "mark": {"type": "text", "angle": 270, "fontSize": 13, "color": "#1a1a1a", "align": "center", "baseline": "middle"},
   "encoding": {"x": {"field": "a", "type": "quantitative", "axis": null}, "y": {"field": "m", "type": "quantitative", "axis": null}, "text": {"field": "lab"}}}
 ]},
{"width": 830, "height": 88, "view": {"fill": "#ebebeb", "stroke": null},
 "resolve": {"axis": {"x": "independent", "y": "independent"}},
 "layer": [
  {"data": {"name": "ts"}, "mark": {"type": "rule", "color": "#1a1a1a", "strokeWidth": 1.6},
   "encoding": {
    "x": {"field": "t", "type": "quantitative", "scale": {"domain": [1979.849, 2023.26], "nice": false, "zero": false}, "axis": {"orient": "bottom", "values": [1981, 1982, 1983, 1984, 1985, 1986, 1987, 1988, 1989, 1990, 1991, 1992, 1993, 1994, 1995, 1996, 1997, 1998, 1999, 2000, 2001, 2002, 2003, 2004, 2005, 2006, 2007, 2008, 2009, 2010, 2011, 2012, 2013, 2014, 2015, 2016, 2017, 2018, 2019, 2020, 2021, 2022, 2023], "format": "d", "labelAngle": -45, "labelAlign": "right", "labelBaseline": "middle", "labelFontSize": 10, "labelColor": "#4d4d4d", "labelPadding": 3, "labelOverlap": false, "labelFlush": false, "ticks": true, "tickSize": 4, "tickColor": "#333333", "domain": false, "grid": false, "title": "Tiempo", "titleFontSize": 16.5, "titleFontWeight": "normal", "titleColor": "#000000", "titleX": 436, "titleY": 48, "titleAlign": "center", "titleBaseline": "alphabetic"}},
    "y": {"field": "r", "type": "quantitative", "scale": {"domain": [-227, 409], "nice": false, "zero": false}, "axis": {"orient": "left", "values": [-200, 0, 200, 400], "labelOverlap": false, "offset": 6, "tickSize": 4, "tickColor": "#333333", "labelColor": "#4d4d4d", "labelFontSize": 11, "labelPadding": 2, "domain": false, "title": null, "grid": false}},
    "y2": {"datum": 0}}},
  {"data": {"values": [{"a": 1981, "b": 2023.26, "z": 0}]}, "mark": {"type": "rule", "color": "#1a1a1a", "strokeWidth": 1.3},
   "encoding": {
    "x": {"field": "a", "type": "quantitative", "axis": {"orient": "bottom", "values": [1990, 2000, 2010, 2020], "labels": false, "ticks": false, "domain": false, "title": null, "grid": true, "gridWidth": 1.2}},
    "x2": {"field": "b"},
    "y": {"field": "z", "type": "quantitative", "axis": {"orient": "left", "values": [-200, 0, 200, 400], "labels": false, "ticks": false, "domain": false, "title": null, "grid": true, "gridWidth": 1.2}}}},
  {"data": {"values": [{"a": 2022.58, "b": 2023.15, "lo": 13, "hi": 148}]}, "mark": {"type": "rect", "fill": "#bfbfbf", "stroke": "#000000", "strokeWidth": 0.5},
   "encoding": {
    "x": {"field": "a", "type": "quantitative", "axis": {"orient": "bottom", "values": [1985, 1995, 2005, 2015], "labels": false, "ticks": false, "domain": false, "title": null, "grid": true, "gridWidth": 0.6}},
    "x2": {"field": "b"},
    "y": {"field": "lo", "type": "quantitative", "axis": {"orient": "left", "values": [-100, 100, 300], "labels": false, "ticks": false, "domain": false, "title": null, "grid": true, "gridWidth": 0.6}},
    "y2": {"field": "hi"}}},
  {"data": {"values": [{"a": 1979.849, "b": 1980.895, "lo": -227, "hi": 409}]}, "mark": {"type": "rect", "fill": "#d9d9d9"},
   "encoding": {"x": {"field": "a", "type": "quantitative", "axis": null}, "x2": {"field": "b"}, "y": {"field": "lo", "type": "quantitative", "axis": null}, "y2": {"field": "hi"}}},
  {"data": {"values": [{"a": 1980.895, "b": 1981, "lo": -227, "hi": 409}]}, "mark": {"type": "rect", "fill": "#ffffff"},
   "encoding": {"x": {"field": "a", "type": "quantitative", "axis": null}, "x2": {"field": "b"}, "y": {"field": "lo", "type": "quantitative", "axis": null}, "y2": {"field": "hi"}}},
  {"data": {"values": [{"a": 1980.372, "m": 91, "lab": "Remanentes"}]}, "mark": {"type": "text", "angle": 270, "fontSize": 13, "color": "#1a1a1a", "align": "center", "baseline": "middle"},
   "encoding": {"x": {"field": "a", "type": "quantitative", "axis": null}, "y": {"field": "m", "type": "quantitative", "axis": null}, "text": {"field": "lab"}}}
 ]}
]
}
